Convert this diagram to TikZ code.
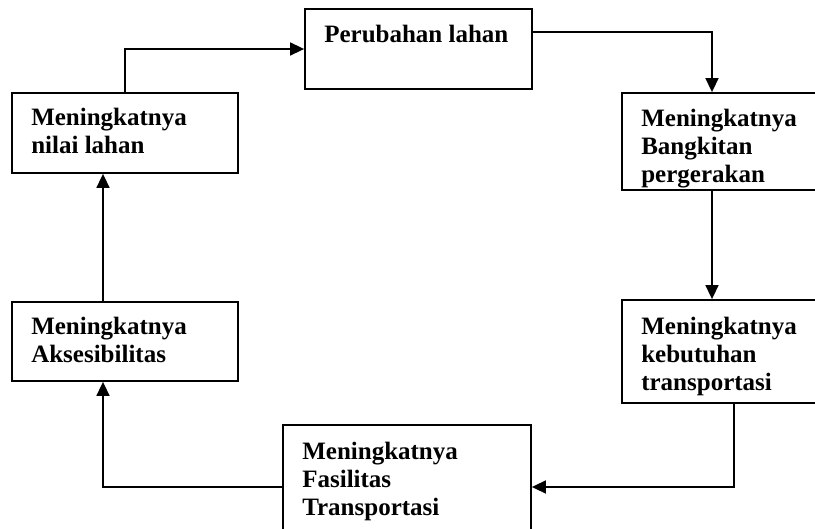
\documentclass[tikz,border=0pt]{standalone}
\usepackage{fontspec}
\setmainfont{Liberation Serif}
\usepackage{tikz}
\usetikzlibrary{arrows.meta,calc}

\begin{document}
\begin{tikzpicture}[x=1pt, y=-1pt, >={Triangle[length=14pt,width=13pt]},
    box/.style={draw, line width=1.8pt, inner sep=0pt},
    txt/.style={anchor=north west, inner sep=0pt, align=left,
        font=\fontsize{25}{28}\selectfont\bfseries},
    arr/.style={line width=1.6pt, ->}]

    %% Background
    \useasboundingbox (0,0) rectangle (815,529);

    % Boxes
    \node[box, minimum width=227pt, minimum height=80pt] (ubah) at (418.5,49) {};
    \node[box, minimum width=226pt, minimum height=80pt] (nilai) at (125,133) {};
    \node[box, minimum width=196pt, minimum height=97pt] (bangkit) at (720,141.5) {};
    \node[box, minimum width=196pt, minimum height=103pt] (butuh) at (720,351.5) {};
    \node[box, minimum width=226pt, minimum height=79pt] (akses) at (125,341.5) {};
    \node[box, minimum width=248pt, minimum height=124pt] (fasil) at (407,487) {};

    % Texts
    \node[txt] (ubah-t) at ([shift={(20pt,-17pt)}]ubah.north west) {Perubahan lahan};
    \node[txt] (nilai-t) at ([shift={(20pt,-16pt)}]nilai.north west) {Meningkatnya\\nilai lahan};
    \node[txt] (bangkit-t) at ([shift={(20pt,-17pt)}]bangkit.north west) {Meningkatnya\\Bangkitan\\pergerakan};
    \node[txt] (butuh-t) at ([shift={(20pt,-18pt)}]butuh.north west) {Meningkatnya\\kebutuhan\\transportasi};
    \node[txt] (akses-t) at ([shift={(20pt,-16pt)}]akses.north west) {Meningkatnya\\Aksesibilitas};
    \node[txt] (fasil-t) at ([shift={(20pt,-18pt)}]fasil.north west) {Meningkatnya\\Fasilitas\\Transportasi};

    % Cycle
    \draw[arr] (nilai.north) |- (ubah.west);
    \draw[arr] ([yshift=17pt]ubah.east) -| ([xshift=-8pt]bangkit.north);
    \draw[arr] ([xshift=-8pt]bangkit.south) -- ([xshift=-8pt]butuh.north);
    \draw[arr] ([xshift=14pt]butuh.south) |- (fasil.east);
    \draw[arr] (fasil.west) -| ([xshift=-22pt]akses.south);
    \draw[arr] ([xshift=-22pt]akses.north) -- ([xshift=-22pt]nilai.south);

\end{tikzpicture}
\end{document}
